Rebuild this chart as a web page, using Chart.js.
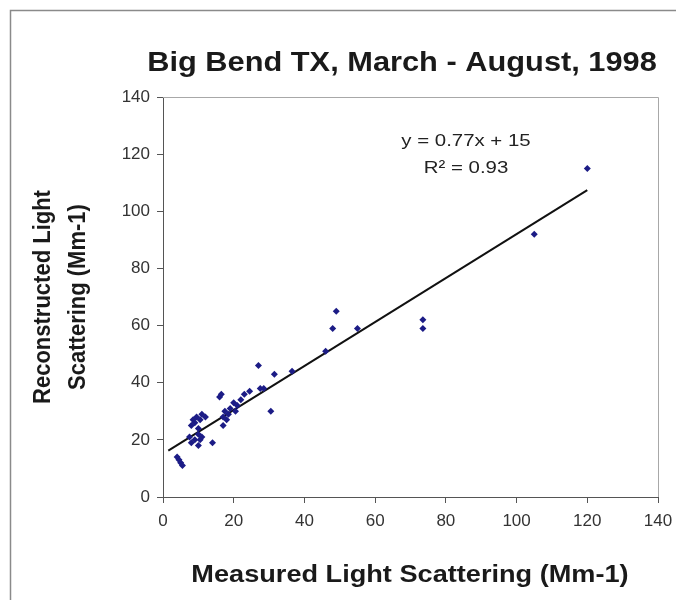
<!DOCTYPE html>
<html>
<head>
<meta charset="utf-8">
<script src="https://cdn.jsdelivr.net/npm/chart.js@4/dist/chart.umd.min.js"></script>
<style>
  html, body { margin: 0; padding: 0; background: #fff; }
  canvas { display: block; }
</style>
</head>
<body>
<canvas id="chart" width="676" height="600"></canvas>
<script>
// measured vs reconstructed light scattering
const measured = [4, 4.5, 5, 5.5, 7.5, 8, 8, 8.5, 9, 9, 9.5, 10, 10, 10, 10.5, 10.5, 11, 11, 12, 14,
    16, 16.5, 17, 17, 17.5, 18, 18.5, 19, 20, 20.5, 21, 22, 23, 24.5, 27, 27.5, 28.5, 30.5,
    31.5, 36.5, 46, 48, 49, 55, 73.5, 73.5, 105, 120];
const reconstructed = [14, 13, 12, 11, 21, 19, 25, 27, 20, 26, 28, 18, 22, 24, 20, 27, 21, 29, 28, 19,
    35, 36, 28, 25, 30, 27, 29, 31, 33, 30, 32, 34, 36, 37, 46, 38, 38, 30,
    43, 44, 51, 59, 65, 59, 62, 59, 92, 115];

// trend line end points
const trendX = [1.5, 120];
const trendY = [16.2, 107.4];

const axisTicks = [0, 20, 40, 60, 80, 100, 120, 140];

const chartTitle = 'Big Bend TX, March - August, 1998';
const xTitle = 'Measured Light Scattering (Mm-1)';
const yTitle = ['Reconstructed Light', 'Scattering (Mm-1)'];
const equation = ['y = 0.77x + 15', 'R\u00B2 = 0.93'];

const FONT = '"Liberation Sans", Arial, sans-serif';

function stretchText(ctx, text, x, y, sx) {
    ctx.save();
    ctx.translate(x, y);
    ctx.scale(sx, 1);
    ctx.fillText(text, 0, 0);
    ctx.restore();
}

const decorations = {
    id: 'decorations',
    beforeDraw(chart) {
        const ctx = chart.ctx;
        ctx.save();
        ctx.fillStyle = '#fff';
        ctx.fillRect(0, 0, chart.width, chart.height);
        ctx.restore();
    },
    afterDraw(chart) {
        const ctx = chart.ctx;
        const a = chart.chartArea;
        ctx.save();
        // outer frame
        ctx.strokeStyle = '#8a8a8a';
        ctx.lineWidth = 1.5;
        ctx.strokeRect(10.5, 10.5, 700, 700);
        // plot area top/right edge
        ctx.strokeStyle = '#a8a8a8';
        ctx.lineWidth = 1;
        ctx.beginPath();
        ctx.moveTo(a.left, a.top + 0.5);
        ctx.lineTo(a.right + 0.5, a.top + 0.5);
        ctx.lineTo(a.right + 0.5, a.bottom);
        ctx.stroke();

        ctx.fillStyle = '#1a1a1a';
        ctx.textAlign = 'center';
        ctx.textBaseline = 'middle';
        ctx.font = 'bold 27px ' + FONT;
        stretchText(ctx, chartTitle, 402, 64, 1.14);

        ctx.font = 'bold 23px ' + FONT;
        stretchText(ctx, xTitle, 410, 576, 1.18);

        ctx.font = 'bold 22px ' + FONT;
        yTitle.forEach(function (line, i) {
            ctx.save();
            ctx.translate(43 + i * 35, 297);
            ctx.rotate(-Math.PI / 2);
            ctx.scale(1, 1.1);
            ctx.fillText(line, 0, 0);
            ctx.restore();
        });

        ctx.fillStyle = '#222';
        ctx.font = '17px ' + FONT;
        equation.forEach(function (line, i) {
            stretchText(ctx, line, 466, 141 + i * 27, 1.2);
        });
        ctx.restore();
    }
};

new Chart(document.getElementById('chart'), {
    type: 'scatter',
    data: {
        datasets: [{
            label: 'points',
            data: measured.map(function (x, i) { return { x: x, y: reconstructed[i] }; }),
            pointStyle: 'rectRot',
            pointRadius: 3.5,
            backgroundColor: '#1c1c86',
            borderWidth: 0
        }, {
            type: 'line',
            label: 'trend',
            data: trendX.map(function (x, i) { return { x: x, y: trendY[i] }; }),
            borderColor: '#111',
            borderWidth: 2,
            pointRadius: 0,
            fill: false
        }]
    },
    options: {
        responsive: false,
        animation: false,
        layout: { padding: { top: 97, right: 18, left: 0, bottom: 0 } },
        plugins: { legend: { display: false }, tooltip: { enabled: false } },
        scales: {
            x: {
                type: 'linear',
                min: 0, max: 140,
                afterBuildTicks: function (s) { s.ticks = axisTicks.map(function (v) { return { value: v }; }); },
                afterFit: function (s) { s.height = 103; s.paddingRight = 0; s.paddingLeft = 0; },
                ticks: { font: { size: 17, family: FONT }, color: '#333', padding: 8, maxRotation: 0 },
                grid: { drawOnChartArea: false, tickLength: 6, color: '#555' },
                border: { color: '#555', width: 1 }
            },
            y: {
                type: 'linear',
                min: 0, max: 140,
                afterBuildTicks: function (s) { s.ticks = axisTicks.map(function (v) { return { value: v }; }); },
                afterFit: function (s) { s.width = 163; },
                ticks: { font: { size: 17, family: FONT }, color: '#333', padding: 7 },
                grid: { drawOnChartArea: false, tickLength: 6, color: '#555' },
                border: { color: '#555', width: 1 }
            }
        }
    },
    plugins: [decorations]
});
</script>
</body>
</html>
